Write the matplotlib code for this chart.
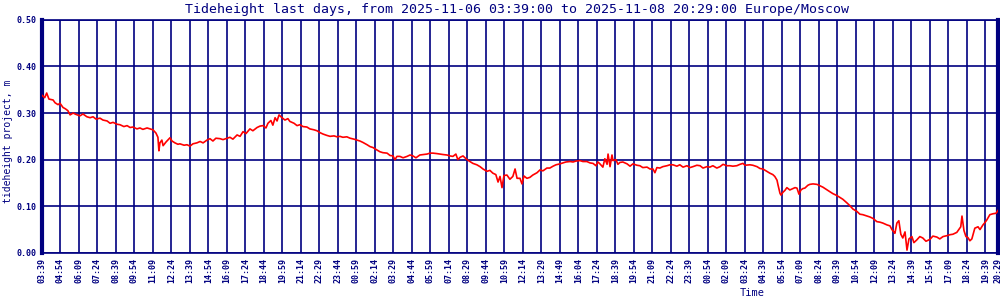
import matplotlib
matplotlib.use("Agg")
import matplotlib.pyplot as plt

NAVY = "#000080"

# minutes since 2025-11-06 03:39 and tide height (m)
minutes = [0, 11, 19, 28, 45, 53, 65, 73, 85, 95, 105, 114, 126, 138, 154, 166, 182, 195, 207, 219,
           235, 247, 264, 276, 288, 304, 316, 332, 345, 357, 369, 385, 397, 409, 426, 438, 450, 462, 470, 474,
           478, 486, 491, 503, 519, 527, 539, 551, 559, 576, 588, 600, 612, 628, 641, 653, 669, 681, 693, 705,
           722, 734, 750, 762, 774, 791, 803, 815, 827, 843, 855, 872, 884, 896, 908, 916, 928, 936, 945, 953,
           961, 973, 985, 997, 1005, 1022, 1034, 1046, 1058, 1074, 1086, 1103, 1115, 1127, 1139, 1155, 1168, 1184, 1196, 1208,
           1220, 1236, 1249, 1265, 1277, 1289, 1301, 1318, 1330, 1342, 1354, 1370, 1382, 1399, 1411, 1423, 1431, 1439, 1451, 1464,
           1480, 1492, 1504, 1516, 1532, 1545, 1561, 1573, 1585, 1601, 1613, 1626, 1642, 1654, 1666, 1678, 1686, 1695, 1707, 1723,
           1735, 1747, 1763, 1776, 1788, 1804, 1816, 1828, 1840, 1849, 1857, 1865, 1873, 1885, 1897, 1909, 1918, 1926, 1938, 1946,
           1954, 1966, 1978, 1990, 2007, 2019, 2031, 2047, 2059, 2072, 2084, 2100, 2112, 2124, 2141, 2153, 2165, 2181, 2193, 2209,
           2222, 2234, 2246, 2254, 2262, 2274, 2282, 2291, 2295, 2303, 2311, 2315, 2327, 2335, 2343, 2355, 2372, 2384, 2396, 2412,
           2424, 2436, 2453, 2465, 2477, 2485, 2493, 2505, 2517, 2534, 2546, 2558, 2574, 2586, 2599, 2615, 2627, 2639, 2655, 2668,
           2680, 2696, 2708, 2720, 2736, 2749, 2761, 2777, 2789, 2801, 2817, 2830, 2842, 2850, 2870, 2882, 2899, 2911, 2923, 2939,
           2951, 2963, 2971, 2980, 2984, 2992, 2996, 3004, 3012, 3020, 3032, 3045, 3053, 3061, 3069, 3077, 3085, 3093, 3105, 3113,
           3126, 3142, 3154, 3166, 3183, 3195, 3207, 3223, 3235, 3247, 3264, 3276, 3288, 3304, 3316, 3328, 3345, 3357, 3369, 3385,
           3397, 3409, 3426, 3438, 3446, 3454, 3458, 3466, 3474, 3482, 3490, 3499, 3507, 3515, 3527, 3535, 3547, 3559, 3571, 3584,
           3600, 3612, 3628, 3640, 3653, 3669, 3681, 3693, 3709, 3717, 3725, 3730, 3738, 3746, 3754, 3762, 3770, 3782, 3795, 3803,
           3815, 3823, 3831, 3843, 3856, 3868, 3876]
height = [0.338, 0.333, 0.343, 0.330, 0.328, 0.322, 0.318, 0.321, 0.312, 0.309, 0.305, 0.296, 0.300, 0.297, 0.294, 0.298, 0.292, 0.290, 0.292, 0.287,
          0.289, 0.285, 0.283, 0.278, 0.280, 0.276, 0.275, 0.271, 0.273, 0.269, 0.270, 0.266, 0.268, 0.265, 0.268, 0.266, 0.264, 0.257, 0.248, 0.219,
          0.236, 0.242, 0.230, 0.238, 0.247, 0.240, 0.236, 0.233, 0.234, 0.231, 0.232, 0.229, 0.234, 0.236, 0.239, 0.236, 0.242, 0.245, 0.240, 0.246,
          0.245, 0.243, 0.246, 0.248, 0.244, 0.253, 0.250, 0.260, 0.256, 0.266, 0.262, 0.269, 0.272, 0.273, 0.268, 0.278, 0.284, 0.274, 0.290, 0.283,
          0.296, 0.290, 0.285, 0.288, 0.282, 0.278, 0.273, 0.275, 0.271, 0.270, 0.266, 0.264, 0.262, 0.258, 0.255, 0.252, 0.250, 0.251, 0.249, 0.250,
          0.248, 0.249, 0.246, 0.244, 0.242, 0.240, 0.237, 0.232, 0.228, 0.226, 0.222, 0.217, 0.215, 0.214, 0.209, 0.208, 0.200, 0.207, 0.207, 0.204,
          0.207, 0.210, 0.208, 0.204, 0.210, 0.211, 0.212, 0.214, 0.214, 0.213, 0.212, 0.211, 0.210, 0.208, 0.207, 0.212, 0.200, 0.205, 0.208, 0.200,
          0.196, 0.192, 0.189, 0.185, 0.180, 0.175, 0.177, 0.171, 0.168, 0.152, 0.164, 0.140, 0.166, 0.167, 0.158, 0.164, 0.180, 0.160, 0.160, 0.148,
          0.165, 0.160, 0.162, 0.167, 0.172, 0.178, 0.176, 0.182, 0.182, 0.186, 0.189, 0.191, 0.193, 0.195, 0.196, 0.195, 0.197, 0.198, 0.196, 0.196,
          0.193, 0.192, 0.187, 0.195, 0.191, 0.184, 0.202, 0.190, 0.212, 0.185, 0.210, 0.198, 0.200, 0.190, 0.194, 0.195, 0.191, 0.186, 0.191, 0.188,
          0.187, 0.183, 0.184, 0.180, 0.180, 0.172, 0.183, 0.182, 0.185, 0.187, 0.189, 0.189, 0.186, 0.189, 0.184, 0.187, 0.183, 0.185, 0.188, 0.187,
          0.182, 0.185, 0.184, 0.187, 0.182, 0.185, 0.190, 0.187, 0.187, 0.186, 0.187, 0.190, 0.192, 0.188, 0.189, 0.188, 0.185, 0.181, 0.180, 0.175,
          0.171, 0.168, 0.164, 0.156, 0.146, 0.128, 0.124, 0.130, 0.134, 0.140, 0.135, 0.138, 0.140, 0.139, 0.126, 0.135, 0.138, 0.139, 0.145, 0.147,
          0.148, 0.147, 0.144, 0.141, 0.135, 0.131, 0.127, 0.123, 0.119, 0.115, 0.107, 0.101, 0.094, 0.089, 0.083, 0.082, 0.079, 0.077, 0.074, 0.067,
          0.066, 0.064, 0.060, 0.058, 0.050, 0.045, 0.042, 0.064, 0.069, 0.040, 0.032, 0.045, 0.006, 0.030, 0.035, 0.022, 0.028, 0.035, 0.032, 0.025,
          0.029, 0.036, 0.034, 0.030, 0.035, 0.037, 0.039, 0.040, 0.044, 0.050, 0.056, 0.079, 0.048, 0.035, 0.033, 0.026, 0.030, 0.053, 0.056, 0.050,
          0.060, 0.065, 0.071, 0.082, 0.084, 0.085, 0.091]

tick_labels = ["03:39", "04:54", "06:09", "07:24", "08:39", "09:54", "11:09", "12:24", "13:39", "14:54",
               "16:09", "17:24", "18:44", "19:59", "21:14", "22:29", "23:44", "00:59", "02:14", "03:29",
               "04:44", "05:59", "07:14", "08:29", "09:44", "10:59", "12:14", "13:29", "14:49", "16:04",
               "17:24", "18:39", "19:54", "21:09", "22:24", "23:39", "00:54", "02:09", "03:24", "04:39",
               "05:54", "07:09", "08:24", "09:39", "10:54", "12:09", "13:24", "14:39", "15:54", "17:09",
               "18:24", "19:39", "20:29"]
tick_pos = [i * 75 for i in range(len(tick_labels) - 1)] + [3876]
y_ticks = [0.0, 0.1, 0.2, 0.3, 0.4, 0.5]

mono = "DejaVu Sans Mono"

fig = plt.figure(figsize=(10, 3), dpi=100)
ax = fig.add_axes([0.042, 0.157, 0.956, 0.777])

ax.plot(minutes, height, color="#ff0000", linewidth=1.2, zorder=3)

ax.set_xlim(0, 3876)
ax.set_ylim(0, 0.5)
ax.set_xticks(tick_pos)
ax.set_xticklabels(tick_labels, rotation=90, fontsize=6, fontweight="bold", family=mono, color=NAVY)
ax.set_yticks(y_ticks)
ax.set_yticklabels(["%.2f" % v for v in y_ticks], fontsize=6, fontweight="bold", family=mono, color=NAVY)
ax.tick_params(length=0, pad=4)
ax.grid(True, color=NAVY, linewidth=1.2)
ax.set_axisbelow(True)

for side in ["left", "right"]:
    ax.spines[side].set_color(NAVY)
    ax.spines[side].set_linewidth(3)
for side in ["top", "bottom"]:
    ax.spines[side].set_color(NAVY)
    ax.spines[side].set_linewidth(1.2)

fig.text(0.517, 0.97, "Tideheight last days, from 2025-11-06 03:39:00 to 2025-11-08 20:29:00 Europe/Moscow",
         ha="center", va="center", fontsize=9.5, family=mono, color=NAVY)
fig.text(0.008, 0.53, "tideheight project, m", rotation=90, ha="center", va="center",
         fontsize=7, family=mono, color=NAVY)
fig.text(0.752, 0.025, "Time", ha="center", va="center", fontsize=7.5, family=mono, color=NAVY)

fig.savefig("out.png", dpi=100)
